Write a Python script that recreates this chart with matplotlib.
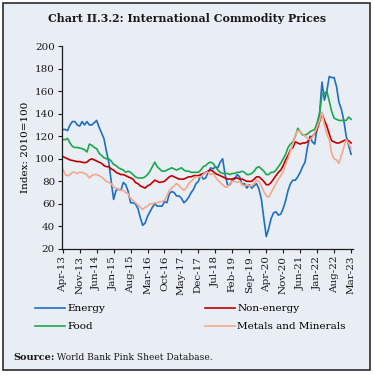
import numpy as np
import pandas as pd
import matplotlib
matplotlib.use("Agg")
import matplotlib.pyplot as plt
from matplotlib.patches import Rectangle

# ── palette ──────────────────────────────────────────────────────────────────
BG = "#e9edf4"
FRAME = "#2b2b2b"
BLUE = "#1f6fc5"
RED = "#c00000"
GREEN = "#1aa84c"
SALMON = "#f4a88c"
INK = "#1a1a1a"

plt.rcParams.update({"font.family": "DejaVu Serif", "font.size": 7.5})

# ── data (monthly, Apr-2013 .. Mar-2023, index 2010=100) ─────────────────────
months = pd.date_range("2013-04-01", "2023-03-01", freq="MS")

energy = [126, 126, 125, 130, 133, 133, 130, 129, 133, 130, 133, 130,
          130, 132, 134, 128, 123, 118, 107, 97, 80, 64, 72, 73,
          72, 79, 77, 71, 61, 61, 60, 56, 48, 41, 43, 49,
          53, 57, 60, 58, 58, 58, 62, 61, 69, 71, 70, 67,
          67, 65, 61, 63, 66, 70, 73, 78, 80, 86, 82, 83,
          88, 92, 91, 93, 92, 97, 100, 86, 77, 77, 81, 82,
          86, 84, 77, 78, 74, 77, 74, 76, 78, 73, 64, 47,
          31, 38, 47, 52, 53, 50, 51, 56, 63, 72, 78, 81,
          81, 84, 88, 93, 97, 110, 120, 115, 113, 128, 140, 168,
          152, 160, 173, 172, 172, 164, 150, 144, 134, 120, 112, 104]

non_energy = [102, 101, 100, 99, 98.5, 98, 97.5, 97.5, 97, 96.5, 97, 99,
              100, 99, 98, 97, 96, 94, 93, 93, 91, 90, 88, 87,
              86, 86, 85, 84, 83, 82, 79, 78, 76, 75, 74, 76,
              77, 79, 81, 80, 79, 79.5, 80, 82, 84, 85, 84, 83,
              82, 82, 82, 83, 84, 84, 85, 85, 85, 86, 87, 88,
              89, 90, 89, 87, 86, 85, 84, 83, 82, 82, 82, 83,
              83, 82, 82, 81, 80, 80, 80, 82, 84, 84, 82, 80,
              77, 77, 79, 82, 85, 88, 90, 94, 99, 103, 108, 110,
              115, 114, 113, 114, 114, 115, 118, 120, 122, 126, 133, 140,
              134, 129, 122, 116, 115, 114, 114, 115, 116, 117, 116, 114]

food = [117, 117, 118, 114, 111, 110, 110, 109.5, 109, 108, 106, 113,
        112, 110, 109, 105, 103, 101, 100, 100, 98, 95, 94, 92,
        91, 90, 88, 89, 88, 86, 84, 83, 83, 83, 84, 86,
        89, 93, 97, 93, 91, 89, 89, 90, 91, 92, 91, 90,
        91, 92, 90, 89, 89, 88, 88, 88, 88, 90, 93, 94,
        96, 97, 96, 93, 90, 88, 87, 87, 87, 86, 87, 87,
        88, 88, 89, 88, 86, 86, 87, 89, 92, 93, 91, 89,
        86, 86, 88, 88, 90, 93, 96, 100, 104, 110, 113, 115,
        120, 127, 124, 121, 121, 122, 124, 125, 126, 132, 140, 157,
        158, 160, 151, 142, 136, 135, 134, 134, 134, 134, 137, 135]

metals = [91, 86, 85, 86, 88, 88, 87, 88, 88, 87, 86, 83,
          85, 86, 86, 85, 84, 82, 80, 79, 78, 75, 74, 73,
          72, 72, 70, 69, 65, 63, 61, 59, 57, 55, 57, 58,
          60, 60, 61, 61, 62, 62, 63, 67, 72, 74, 76, 78,
          76, 74, 72, 74, 78, 80, 82, 84, 84, 84, 86, 88,
          88, 86, 87, 84, 81, 79, 77, 75, 75, 78, 80, 80,
          79, 80, 77, 76, 77, 76, 76, 78, 81, 80, 76, 71,
          67, 66, 70, 74, 78, 82, 85, 89, 95, 100, 107, 113,
          121, 125, 124, 122, 120, 118, 117, 119, 123, 128, 134, 141,
          130, 122, 117, 105, 100, 99, 96, 103, 110, 117, 114, 109]

tick_pos = list(range(0, 120, 7))
tick_labels = [months[i].strftime("%b-%y") for i in tick_pos]

# ── figure ───────────────────────────────────────────────────────────────────
fig = plt.figure(figsize=(3.74, 3.75), dpi=100, facecolor="white")
fig.patches.append(Rectangle((3 / 374, 5 / 375), 367 / 374, 367 / 375,
                             transform=fig.transFigure, facecolor=BG,
                             edgecolor=FRAME, linewidth=1.2, zorder=-10))

ax = fig.add_axes([62 / 374, 126 / 375, 291 / 374, 203 / 375])
ax.set_facecolor("none")

x = np.arange(len(months))
ax.plot(x, energy, color=BLUE, lw=1.2, label="Energy")
ax.plot(x, food, color=GREEN, lw=1.2, label="Food")
ax.plot(x, non_energy, color=RED, lw=1.2, label="Non-energy")
ax.plot(x, metals, color=SALMON, lw=1.2, label="Metals and Minerals")

ax.set_xlim(-0.3, 119.8)
ax.set_ylim(20, 200)
ax.set_yticks(range(20, 201, 20))
ax.set_xticks(tick_pos)
ax.set_xticklabels(tick_labels, rotation=90)
ax.tick_params(length=3, width=0.8, colors=INK, labelsize=7.5, pad=2)
for s in ["top", "right"]:
    ax.spines[s].set_visible(False)
for s in ["left", "bottom"]:
    ax.spines[s].set_color(INK)
    ax.spines[s].set_linewidth(0.9)
ax.set_ylabel("Index: 2010=100", fontsize=7.5, labelpad=4)

fig.text(0.5, 1 - 18 / 375, "Chart II.3.2: International Commodity Prices",
         ha="center", va="center", fontsize=7.9, fontweight="bold", color=INK)

# column-wise fill: Energy/Food in col 1, Non-energy/Metals in col 2
fig.legend(ncol=2, loc="upper left", bbox_to_anchor=(35 / 374, 1 - 304 / 375),
           frameon=False, fontsize=7.5, handlelength=2.9, handletextpad=0.25,
           columnspacing=9.5, labelspacing=0.85, borderaxespad=0, borderpad=0)

src = fig.text(13 / 374, 1 - 358 / 375, "Source:", fontsize=7.0, fontweight="bold",
               ha="left", va="center", color=INK)
ax.annotate(" World Bank Pink Sheet Database.", xy=(1, 0.5), xycoords=src,
            ha="left", va="center", fontsize=6.6, color=INK, annotation_clip=False)

fig.savefig("out.png", dpi=100, facecolor="white")
